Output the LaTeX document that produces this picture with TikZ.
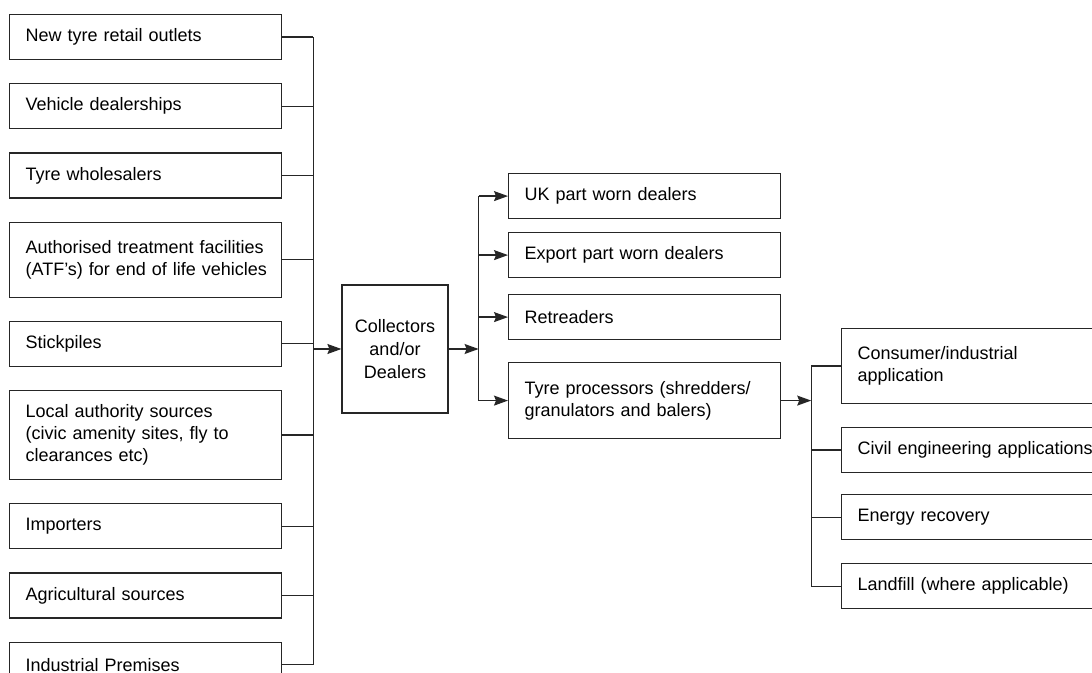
\documentclass[tikz,border=0pt]{standalone}
\usepackage{fontspec}
\setmainfont{Liberation Sans}
\usetikzlibrary{positioning, arrows.meta, calc}

\begin{document}
\begin{tikzpicture}[
    x=0.5pt, y=-0.5pt, % One unit per pixel of the page
    >={Stealth[length=7pt, width=5pt, inset=1pt]},
    node distance=11.5pt,
    % Styles
    box/.style={ % Source or outlet box
        draw=black!85,
        line width=0.6pt,
        text width=120pt,
        inner xsep=8pt,
        align=left,
        minimum height=22.5pt,
        font=\fontsize{9}{11}\selectfont
    },
    hub/.style={ % Central collecting box
        box,
        text width=44pt,
        inner xsep=4.5pt,
        align=center,
        minimum height=64pt,
        font=\fontsize{9}{11.5}\selectfont
    },
    link/.style={
        draw=black!85,
        line width=0.6pt
    },
    arrow/.style={
        link,
        ->
    }
]
    \useasboundingbox (0,0) rectangle (1092,673);
    \clip (0,0) rectangle (1092,673);

    % Sources of used tyres
    \node[box, anchor=north west] (src1) at (9,14) {New tyre retail outlets};
    \node[box] (src2) [below=of src1] {Vehicle dealerships};
    \node[box] (src3) [below=of src2] {Tyre wholesalers};
    \node[box, minimum height=37.5pt] (src4) [below=of src3] {\mbox{Authorised treatment facilities}\\\mbox{(ATF’s) for end of life vehicles}};
    \node[box] (src5) [below=of src4] {Stickpiles};
    \node[box, minimum height=44.5pt] (src6) [below=of src5] {Local authority sources\\(civic amenity sites, fly to\\clearances etc)};
    \node[box] (src7) [below=of src6] {Importers};
    \node[box] (src8) [below=of src7] {Agricultural sources};
    \node[box] (src9) [below=of src8] {Industrial Premises};

    % Collectors
    \node[hub] (coll) at (395,349) {Collectors\\and/or\\Dealers};

    % First outlets
    \node[box, anchor=north west] (uk) at (508,173) {UK part worn dealers};
    \node[box, anchor=north west] (export) at (508,232) {Export part worn dealers};
    \node[box, anchor=north west] (retread) at (508,294) {Retreaders};
    \node[box, anchor=north west, minimum height=38pt] (proc) at (508,362) {Tyre processors (shredders/\\granulators and balers)};

    % End uses of processed tyres
    \node[box, anchor=north west, text width=130pt, minimum height=37.5pt] (cons) at (841,328) {Consumer/industrial\\application};
    \node[box, anchor=north west, text width=130pt] (civil) at (841,427) {Civil engineering applications};
    \node[box, anchor=north west, text width=130pt] (energy) at (841,494) {Energy recovery};
    \node[box, anchor=north west, text width=130pt] (land) at (841,563) {Landfill (where applicable)};

    % Sources into collectors
    \coordinate (bus1) at ($(src1.east)+(31,0)$);
    \draw[link] (bus1) -- (bus1 |- src9.east);
    \foreach \i in {1,...,9}
        \draw[link] (src\i.east) -- (src\i.east -| bus1);
    \draw[arrow] (coll.west -| bus1) -- (coll.west);

    % Collectors to outlets
    \coordinate (bus2) at ($(coll.east)+(30,0)$);
    \draw[arrow] (coll.east) -- (bus2);
    \draw[link] (bus2 |- uk.west) -- (bus2 |- proc.west);
    \foreach \n in {uk, export, retread, proc}
        \draw[arrow] (bus2 |- \n.west) -- (\n.west);

    % Processors to end uses
    \coordinate (bus3) at ($(proc.east)+(30,0)$);
    \draw[arrow] (proc.east) -- (bus3);
    \draw[link] (bus3 |- cons.west) -- (bus3 |- land.west);
    \foreach \n in {cons, civil, energy, land}
        \draw[link] (bus3 |- \n.west) -- (\n.west);
\end{tikzpicture}
\end{document}
